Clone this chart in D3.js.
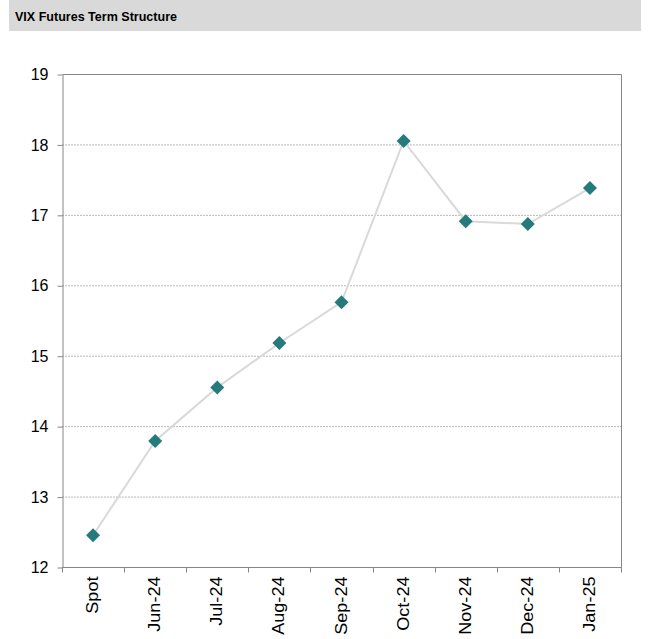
<!DOCTYPE html>
<html>
<head>
<meta charset="utf-8">
<script src="https://cdn.jsdelivr.net/npm/d3@7"></script>
<style>
  body { margin: 0; background: #fff; }
  svg text { font-family: "Liberation Sans", Arial, sans-serif; }
</style>
</head>
<body>
<div id="vis"></div>
<script>
var categories = ["Spot", "Jun-24", "Jul-24", "Aug-24", "Sep-24", "Oct-24", "Nov-24", "Dec-24", "Jan-25"];
var values = [12.45, 13.79, 14.55, 15.18, 15.76, 18.05, 16.91, 16.87, 17.38];
var yTicks = [12, 13, 14, 15, 16, 17, 18, 19];

var width = 650, height = 639;
var margin = {top: 74, right: 29, bottom: 72, left: 62};

var svg = d3.select("#vis")
    .append("svg")
    .attr("width", width)
    .attr("height", height);

////////// title bar //////////

svg.append("rect")
    .attr("x", 9)
    .attr("y", 0)
    .attr("width", 632)
    .attr("height", 31)
    .attr("fill", "#d9d9d9");

svg.append("text")
    .attr("x", 15)
    .attr("y", 21)
    .attr("font-size", "12.5px")
    .attr("font-weight", "bold")
    .attr("fill", "#000")
    .attr("textLength", 162)
    .attr("lengthAdjust", "spacingAndGlyphs")
    .text("VIX Futures Term Structure");

////////// plot //////////

var x = d3.scaleBand()
    .domain(categories)
    .range([margin.left, width - margin.right]);

var y = d3.scaleLinear()
    .domain([12, 19])
    .range([height - margin.bottom, margin.top]);

// dotted gridlines
svg.append("g")
  .selectAll("line")
    .data(yTicks.slice(1, -1))
    .enter()
    .append("line")
    .attr("x1", margin.left)
    .attr("x2", width - margin.right)
    .attr("y1", function(d) { return y(d) + 0.5; })
    .attr("y2", function(d) { return y(d) + 0.5; })
    .attr("stroke", "#b8b8b8")
    .attr("stroke-width", 1)
    .attr("stroke-dasharray", "2,1");

// frame top / right
svg.append("path")
    .attr("d", "M" + (margin.left + 0.5) + "," + (y(19) + 0.5) +
               "H" + (width - margin.right + 0.5) +
               "V" + (y(12) + 0.5))
    .attr("fill", "none")
    .attr("stroke", "#868686");

// y axis
var yAxis = svg.append("g")
    .attr("transform", "translate(" + (margin.left + 0.5) + ",0.5)")
    .call(d3.axisLeft(y).tickValues(yTicks).tickSize(5).tickSizeOuter(0).tickPadding(9).tickFormat(d3.format("d")));

yAxis.select(".domain").attr("stroke", "#868686");
yAxis.selectAll(".tick line").attr("stroke", "#868686");
yAxis.selectAll("text")
    .attr("font-size", "16px")
    .attr("fill", "#000")
    .attr("font-family", "Liberation Sans, Arial, sans-serif");

// x axis: ticks at category boundaries
var xAxis = svg.append("g")
    .attr("transform", "translate(0," + (y(12) + 0.5) + ")");

xAxis.append("line")
    .attr("x1", margin.left)
    .attr("x2", width - margin.right + 1)
    .attr("stroke", "#868686");

xAxis.selectAll(".xtick")
    .data(categories.concat(["end"]))
    .enter()
    .append("line")
    .attr("class", "xtick")
    .attr("x1", function(d, i) { return Math.round(margin.left + i * x.bandwidth()) + 0.5; })
    .attr("x2", function(d, i) { return Math.round(margin.left + i * x.bandwidth()) + 0.5; })
    .attr("y1", 0)
    .attr("y2", 5)
    .attr("stroke", "#868686");

xAxis.selectAll(".xlabel")
    .data(categories)
    .enter()
    .append("text")
    .attr("class", "xlabel")
    .attr("transform", function(d) {
      return "translate(" + (x(d) + x.bandwidth() / 2 + 5) + ",9) rotate(-90) scale(1.13,1)";
    })
    .attr("text-anchor", "end")
    .attr("font-size", "16px")
    .attr("fill", "#000")
    .text(function(d) { return d; });

// line
var line = d3.line()
    .x(function(d, i) { return x(categories[i]) + x.bandwidth() / 2; })
    .y(function(d) { return y(d); });

svg.append("path")
    .datum(values)
    .attr("d", line)
    .attr("fill", "none")
    .attr("stroke", "#d9d9d9")
    .attr("stroke-width", 2);

// diamond markers
svg.append("g")
  .selectAll("path")
    .data(values)
    .enter()
    .append("path")
    .attr("transform", function(d, i) {
      return "translate(" + (x(categories[i]) + x.bandwidth() / 2) + "," + y(d) + ")";
    })
    .attr("d", "M0,-7L7,0L0,7L-7,0Z")
    .attr("fill", "#267a7c");
</script>
</body>
</html>
